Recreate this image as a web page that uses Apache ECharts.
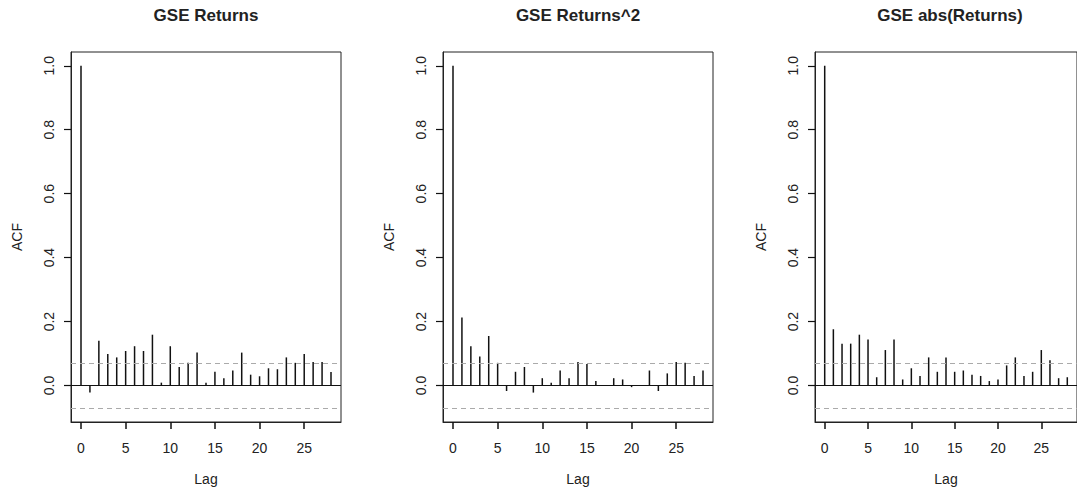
<!DOCTYPE html>
<html>
<head>
<meta charset="utf-8">
<script src="https://cdn.jsdelivr.net/npm/echarts@6/dist/echarts.min.js"></script>
<style>
  html, body { margin: 0; padding: 0; background: #fff; }
  #chart { width: 1077px; height: 491px; }
</style>
</head>
<body>
<div id="chart"></div>
<script>
// acf values, lags 0..28
const lags = [0, 1, 2, 3, 4, 5, 6, 7, 8, 9, 10, 11, 12, 13, 14, 15, 16, 17, 18, 19, 20, 21, 22, 23, 24, 25, 26, 27, 28]
const returnsAcf = [1, -0.022, 0.14, 0.099, 0.088, 0.108, 0.123, 0.108, 0.159, 0.009, 0.123, 0.058, 0.071, 0.103, 0.009, 0.043, 0.023, 0.047, 0.103, 0.034, 0.029, 0.054, 0.051, 0.088, 0.071, 0.099, 0.074, 0.074, 0.042]
const squaredAcf = [1, 0.213, 0.123, 0.091, 0.155, 0.071, -0.017, 0.043, 0.058, -0.022, 0.023, 0.009, 0.047, 0.023, 0.074, 0.067, 0.014, 0.002, 0.023, 0.019, -0.005, 0.001, 0.047, -0.017, 0.038, 0.074, 0.071, 0.03, 0.047]
const absAcf = [1, 0.176, 0.131, 0.131, 0.159, 0.144, 0.026, 0.111, 0.144, 0.019, 0.054, 0.03, 0.088, 0.043, 0.088, 0.043, 0.047, 0.034, 0.03, 0.014, 0.019, 0.063, 0.088, 0.03, 0.043, 0.111, 0.079, 0.023, 0.026]
const titles = ['GSE Returns', 'GSE Returns^2', 'GSE abs(Returns)']
const ciBound = 0.071
const xTicks = [0, 5, 10, 15, 20, 25]
const yTicks = [0, 0.2, 0.4, 0.6, 0.8, 1.0]

const panels = [returnsAcf, squaredAcf, absAcf]
const panelLeft = [71, 443, 815]
const boxWidth = 270
const font = 'Liberation Sans, Arial, Helvetica, sans-serif'

const chartDom = echarts.init(document.getElementById('chart'), null, { renderer: 'svg' })

const grid = []
const xAxis = []
const yAxis = []
const series = []
const title = []

panels.forEach((acf, i) => {
  grid.push({
    left: panelLeft[i], top: 52, width: boxWidth, height: 371,
    show: true, borderColor: '#222', borderWidth: 1, backgroundColor: 'transparent'
  })
  title.push({
    text: titles[i],
    left: panelLeft[i] + boxWidth / 2,
    top: 7,
    padding: 0,
    textAlign: 'center',
    textStyle: { fontFamily: font, fontSize: 17, fontWeight: 'bold', color: '#222' }
  })
  xAxis.push({
    type: 'value', gridIndex: i, position: 'bottom', min: -1.12, max: 29.12,
    name: 'Lag', nameLocation: 'middle', nameGap: 50,
    nameTextStyle: { fontFamily: font, fontSize: 14, color: '#222' },
    // keep the axis on the box bottom, not on y = 0
    axisLine: { show: true, onZero: false, lineStyle: { color: '#222', width: 1 } },
    splitLine: { show: false },
    axisTick: { show: true, inside: false, length: 7, customValues: xTicks, lineStyle: { color: '#111', width: 1.5 } },
    axisLabel: { customValues: xTicks, margin: 19, fontFamily: font, fontSize: 14, color: '#222' }
  })
  yAxis.push({
    type: 'value', gridIndex: i, position: 'left', min: -0.114, max: 1.043,
    name: 'ACF', nameLocation: 'middle', nameGap: 47, nameRotate: 90,
    nameTextStyle: { fontFamily: font, fontSize: 14, color: '#222' },
    axisLine: { show: true, onZero: false, lineStyle: { color: '#222', width: 1 } },
    splitLine: { show: false },
    axisTick: { show: true, length: 7, customValues: yTicks, lineStyle: { color: '#111', width: 1.2 } },
    axisLabel: {
      customValues: yTicks, rotate: 90, margin: 15, fontFamily: font, fontSize: 14, color: '#222',
      formatter: (v) => v.toFixed(1)
    }
  })
  series.push({
    type: 'bar',
    xAxisIndex: i,
    yAxisIndex: i,
    barWidth: 1.5,
    silent: true,
    itemStyle: { color: '#111' },
    data: lags.map((lag, k) => [lag, acf[k]]),
    markLine: {
      silent: true,
      symbol: ['none', 'none'],
      label: { show: false },
      data: [
        { yAxis: 0, lineStyle: { color: '#111', type: 'solid', width: 1 } },
        { yAxis: ciBound, lineStyle: { color: '#aaa', type: [5, 4], width: 1 } },
        { yAxis: -ciBound, lineStyle: { color: '#aaa', type: [5, 4], width: 1 } }
      ]
    }
  })
})

chartDom.setOption({
  animation: false,
  title,
  grid,
  xAxis,
  yAxis,
  series
})
</script>
</body>
</html>
